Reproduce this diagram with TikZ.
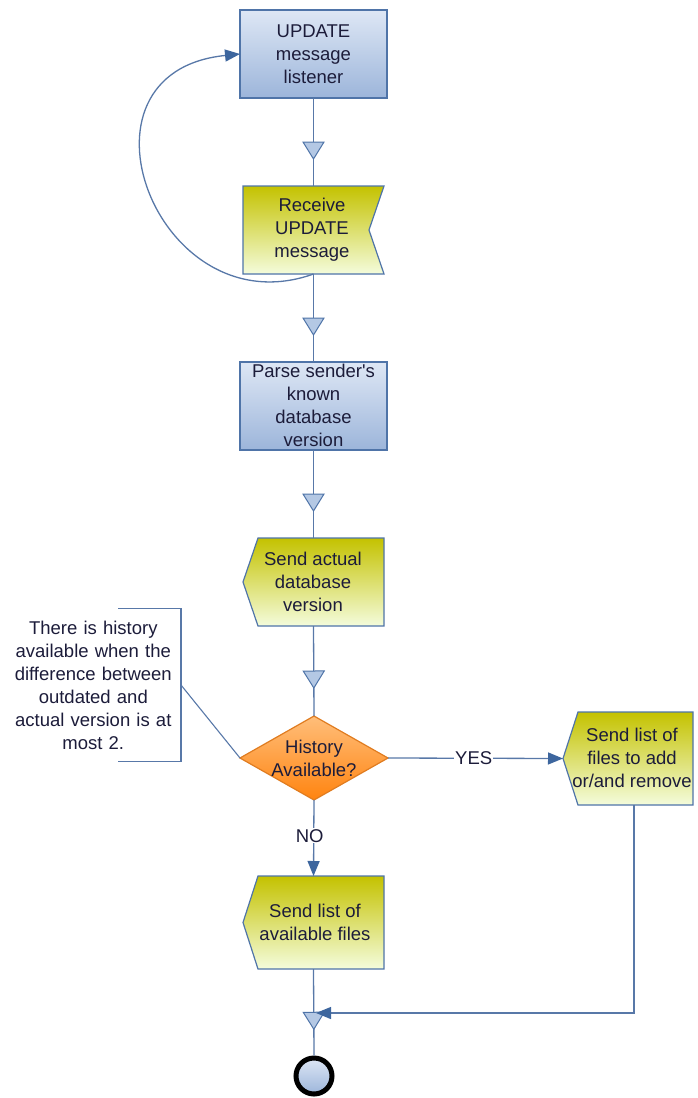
\documentclass[tikz,border=0pt]{standalone}
\usepackage{fontspec}
\setmainfont{Liberation Sans}[Ligatures=TeXOff]
\usetikzlibrary{arrows.meta,decorations.markings}

\definecolor{edge}{HTML}{4F74A8}
\definecolor{wire}{HTML}{5878A8}
\definecolor{ink}{HTML}{1C1C3A}
\definecolor{tipblue}{HTML}{3D669E}
\definecolor{blueTop}{HTML}{DEE7F5}
\definecolor{blueBot}{HTML}{9CB5DA}
\definecolor{yelTop}{HTML}{C4C200}
\definecolor{yelBot}{HTML}{F4FCDC}
\definecolor{orTop}{HTML}{FFBE7A}
\definecolor{orBot}{HTML}{FF8410}
\definecolor{orEdge}{HTML}{E07C20}
\definecolor{triFill}{HTML}{B4C8E4}

\tikzset{
  lbl/.style={font=\fontsize{18.5pt}{23pt}\selectfont, text=ink, align=center, inner sep=0pt},
  frame/.style={inner sep=0pt, outer sep=0pt},
  bluefill/.style={draw=edge, line width=1.2pt, top color=blueTop, bottom color=blueBot},
  yellowfill/.style={draw=edge, line width=1.2pt, top color=yelTop, bottom color=yelBot},
  orangefill/.style={draw=orEdge, line width=1.2pt, top color=orTop, bottom color=orBot},
  flow/.style={draw=wire, line width=1.3pt},
  midtri/.style={postaction={decorate}, decoration={markings,
      mark=at position 0.5 with {\filldraw[draw=edge, fill=triFill, line width=1pt]
        (0pt,10.5pt) -- (17pt,0pt) -- (0pt,-10.5pt) -- cycle;}}},
  head/.style={-{Triangle[length=15pt,width=12pt,color=tipblue]}},
  tag/.style={lbl, fill=white, inner sep=1pt},
}

\begin{document}
\begin{tikzpicture}[x=1pt, y=-1pt]
\useasboundingbox (0,0) rectangle (697,1098);

% UPDATE message listener
\node[frame, bluefill, minimum width=147pt, minimum height=88pt] (b1) at (313.5,54) {};
\node[lbl] (b1t) at (b1) {UPDATE\\message\\listener};

% Receive UPDATE message (notched on the right)
\node[frame, minimum width=141pt, minimum height=88pt] (b2) at (313.5,230) {};
\path[yellowfill] (b2.north west) -- (b2.north east) -- ([xshift=-15pt]b2.east)
  -- (b2.south east) -- (b2.south west) -- cycle;
\node[lbl] (b2t) at (312,230) {Receive\\UPDATE\\message};

% Parse sender's known database version
\node[frame, bluefill, minimum width=147pt, minimum height=88pt] (b3) at (313.5,406) {};
\node[lbl] (b3t) at (313.5,405.5) {Parse sender's\\known\\database\\version};

% Send actual database version (pointed on the left)
\node[frame, minimum width=141pt, minimum height=88pt] (b4) at (313.5,582) {};
\path[yellowfill] ([xshift=15pt]b4.north west) -- (b4.north east) -- (b4.south east)
  -- ([xshift=15pt]b4.south west) -- (b4.west) -- cycle;
\node[lbl] (b4t) at (313,582) {Send actual\\database\\version};

% Decision
\node[frame, minimum width=148pt, minimum height=84pt] (dia) at (314,758) {};
\path[orangefill] (dia.north) -- (dia.east) -- (dia.south) -- (dia.west) -- cycle;
\node[lbl] (diat) at (dia) {History\\Available?};

% Send list of files to add or/and remove
\node[frame, minimum width=130pt, minimum height=93pt] (b5) at (628,758.5) {};
\path[yellowfill] ([xshift=15pt]b5.north west) -- (b5.north east) -- (b5.south east)
  -- ([xshift=15pt]b5.south west) -- (b5.west) -- cycle;
\node[lbl] (b5t) at (632,758) {Send list of\\files to add\\or/and remove};

% Send list of available files
\node[frame, minimum width=141pt, minimum height=93pt] (b6) at (313.5,922.5) {};
\path[yellowfill] ([xshift=15pt]b6.north west) -- (b6.north east) -- (b6.south east)
  -- ([xshift=15pt]b6.south west) -- (b6.west) -- cycle;
\node[lbl] (b6t) at (315,922.5) {Send list of\\available files};

% End state
\node[circle, draw=black, line width=5pt, minimum size=36pt, inner sep=0pt,
      top color=blueTop, bottom color=blueBot] (end) at (314,1076) {};

% Annotation
\node[lbl, anchor=east, text width=175pt, minimum height=152pt] (note) at (181,685)
  {There is history\\available when the\\difference between\\outdated and\\actual version is at\\most 2.};
\draw[flow, line width=1.1pt] ([xshift=-63pt]note.north east) -- (note.north east)
  -- (note.south east) -- ([xshift=-63pt]note.south east);
\draw[flow, line width=1.1pt] (note.east) -- (dia.west);

% Flow connectors
\draw[flow, midtri] (b1.south) -- (b2.north);
\draw[flow, midtri] (b2.south) -- (b3.north);
\draw[flow, midtri] (b3.south) -- (b4.north);
\draw[flow, midtri] (b4.south) -- (dia.north);
\draw[flow, midtri] (b6.south) -- (end.north);

% Loop back to the listener
\draw[flow, head] (b2.south) .. controls (157,330) and (60,72) .. (b1.west);

% Branches
\draw[flow, head] (dia.east) -- node[tag, pos=0.49] (yes) {YES} (b5.west);
\draw[flow, head] (dia.south) -- node[tag, pos=0.47, xshift=-4pt] (no) {NO} (b6.north);

% Merge into the final connector
\coordinate (merge) at (316,1013);
\draw[flow, head] ([xshift=6pt]b5.south) |- (merge);
\end{tikzpicture}
\end{document}
